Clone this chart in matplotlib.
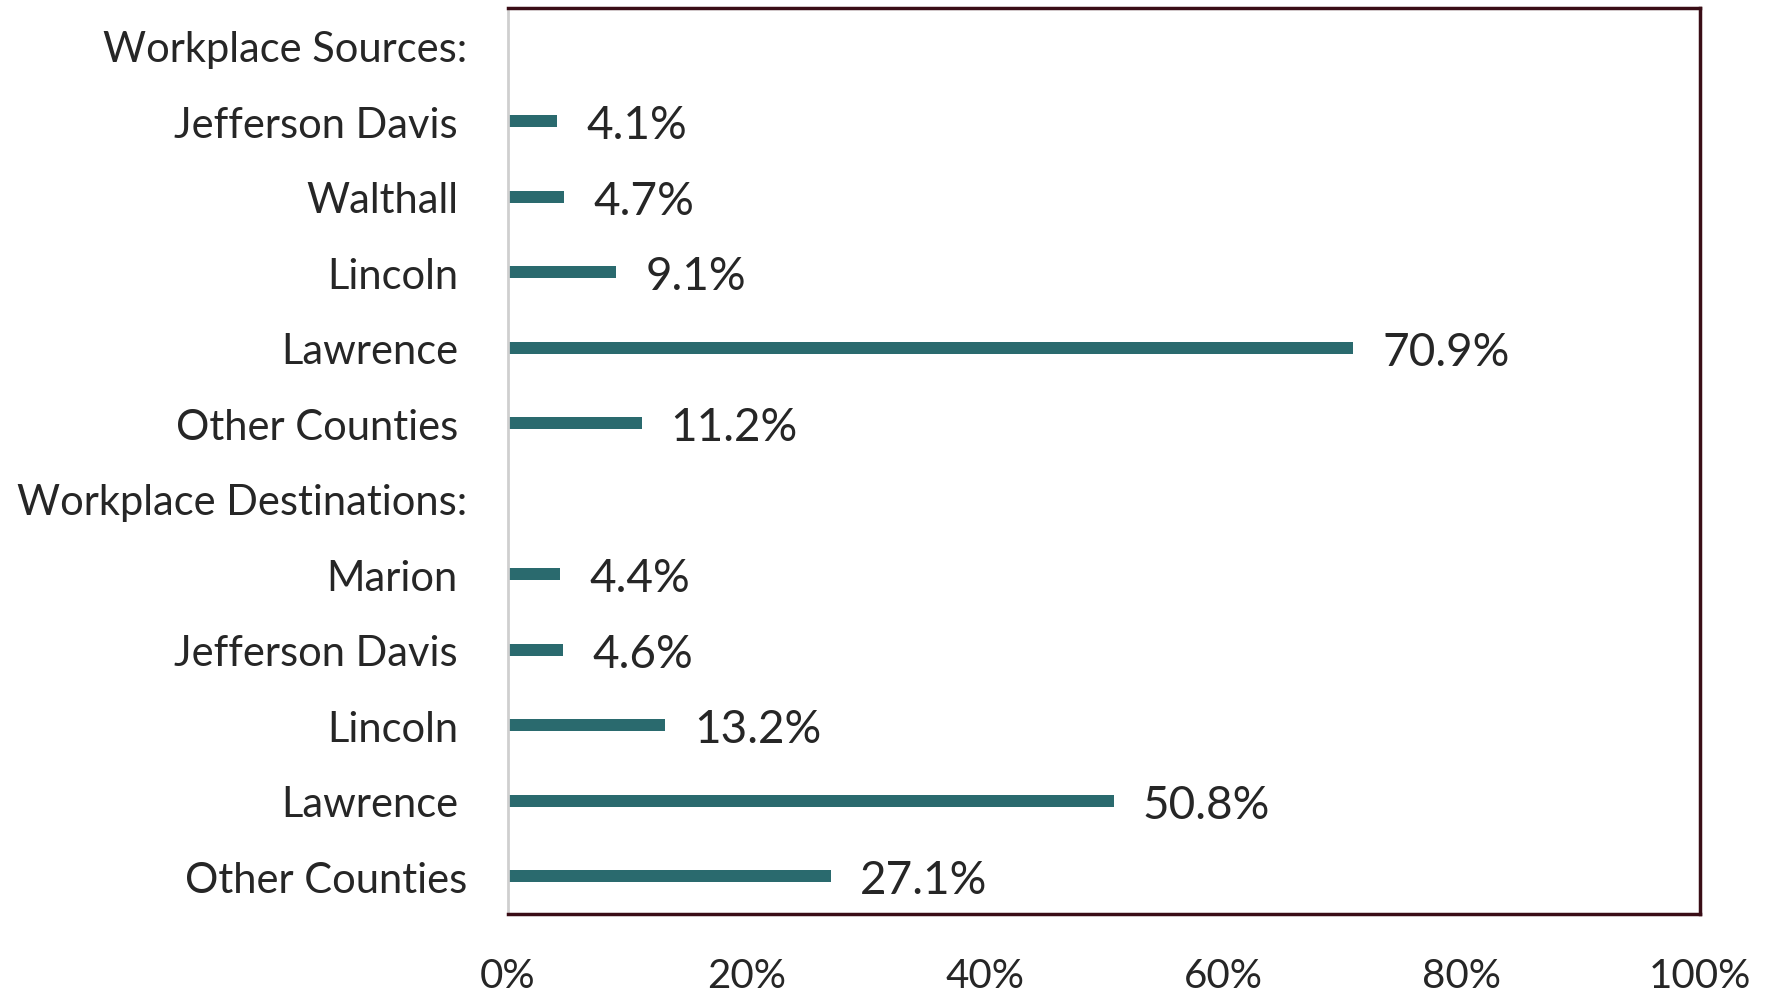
import matplotlib
matplotlib.use("Agg")
import matplotlib.pyplot as plt
from matplotlib.transforms import ScaledTranslation
from matplotlib.ticker import FuncFormatter

categories = [
    "Workplace Sources:",
    "Jefferson Davis",
    "Walthall",
    "Lincoln",
    "Lawrence",
    "Other Counties",
    "Workplace Destinations:",
    "Marion",
    "Jefferson Davis",
    "Lincoln",
    "Lawrence",
    "Other Counties",
]
values = [None, 4.1, 4.7, 9.1, 70.9, 11.2, None, 4.4, 4.6, 13.2, 50.8, 27.1]
x_ticks = [0, 20, 40, 60, 80, 100]

BAR_COLOR = "#2a6a6e"
TEXT_COLOR = "#262626"
FRAME_COLOR = "#3a0d16"

plt.rcParams["font.family"] = ["Lato", "DejaVu Sans"]

fig = plt.figure(figsize=(17.73, 9.95), dpi=100)
ax = fig.add_axes([508 / 1773, 1 - 915 / 995, (1700 - 508) / 1773, (915 - 9) / 995])

ypos = list(range(len(categories)))
for y, v in zip(ypos, values):
    if v is None:
        continue
    ax.barh(y, v, height=0.16, color=BAR_COLOR, left=0)
    ax.annotate(f"{v:.1f}%", xy=(v, y), xytext=(21, -3), textcoords="offset points",
                va="center", ha="left", fontsize=33, color=TEXT_COLOR)

ax.set_xlim(0, 100)
ax.set_ylim(len(categories) - 0.5, -0.5)
ax.set_xticks(x_ticks)
ax.xaxis.set_major_formatter(FuncFormatter(lambda x, _: f"{x:.0f}%"))
ax.set_yticks(ypos)
ax.set_yticklabels(categories)
ax.tick_params(axis="both", length=0, colors=TEXT_COLOR)
ax.tick_params(axis="x", labelsize=29, pad=31)
ax.tick_params(axis="y", labelsize=30, pad=36)

# headers and the last row sit slightly further right
shift = ScaledTranslation(0.09, 0, fig.dpi_scale_trans)
for i, lab in enumerate(ax.get_yticklabels()):
    if values[i] is None or i == len(categories) - 1:
        lab.set_transform(lab.get_transform() + shift)

for side in ("top", "right", "bottom"):
    ax.spines[side].set_color(FRAME_COLOR)
    ax.spines[side].set_linewidth(2.5)
ax.spines["left"].set_color("#cfcfcf")
ax.spines["left"].set_linewidth(2)

fig.savefig("out.png", dpi=100, facecolor="white")
